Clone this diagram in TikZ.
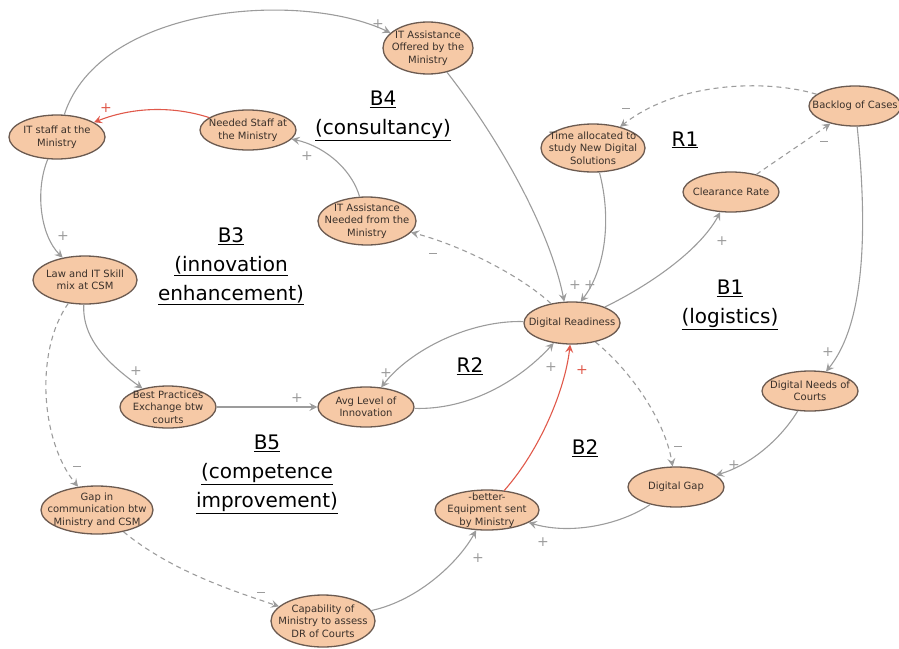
\documentclass[tikz,border=0pt]{standalone}
\usepackage{fontspec}
\setmainfont{DejaVu Sans}
\usetikzlibrary{shapes.geometric,arrows.meta}
\definecolor{peach}{HTML}{F6C9A6}
\definecolor{rim}{HTML}{6B5A50}
\definecolor{link}{HTML}{9C9C9C}
\definecolor{hot}{HTML}{E0594B}
\definecolor{ink}{HTML}{3A302A}
\tikzset{
  var/.style n args={3}{ellipse, draw=rim, line width=1.3pt, fill=peach, inner sep=0pt,
    minimum width=#1, minimum height=#2,
    label={[vtext]center:#3}},
  vtext/.style={align=center, text=ink, inner sep=0pt, font=\fontsize{10}{12.5}\selectfont},
  arc/.style={draw=link, line width=1.1pt, -{Stealth[length=8pt,width=8pt,inset=3pt]}},
  neg/.style={arc, dash pattern=on 5pt off 4pt},
  redarc/.style={arc, draw=hot},
  sgn/.style={text=link, font=\fontsize{14}{14}\selectfont, inner sep=0pt},
  redsgn/.style={sgn, text=hot},
  loopname/.style={align=center, text=black, font=\fontsize{20}{29}\selectfont, inner sep=0pt}
}
\newcommand{\minussign}{\rule[3pt]{8pt}{1.4pt}}
\begin{document}
\begin{tikzpicture}[x=1pt,y=-1pt]
\useasboundingbox (0,0) rectangle (899,648);

% variables (the ellipse keeps its given size; the text sits on it as a centred label)
\node[var={90pt}{52pt}{IT Assistance\\Offered by the\\Ministry}] (itoff) at (428,48) {};
\node[var={92pt}{40pt}{Backlog of Cases}] (backlog) at (855,106) {};
\node[var={96pt}{44pt}{IT staff at the\\Ministry}] (itstaff) at (57,137) {};
\node[var={96pt}{40pt}{Needed Staff at\\the Ministry}] (needed) at (248,130) {};
\node[var={104pt}{48pt}{Time allocated to\\study New Digital\\Solutions}] (time) at (593,148) {};
\node[var={96pt}{40pt}{Clearance Rate}] (clear) at (731,192) {};
\node[var={98pt}{48pt}{IT Assistance\\Needed from the\\Ministry}] (itneed) at (367,221) {};
\node[var={104pt}{48pt}{Law and IT Skill\\mix at CSM}] (law) at (85,280) {};
\node[var={96pt}{42pt}{Digital Readiness}] (dr) at (572,323) {};
\node[var={96pt}{42pt}{Best Practices\\Exchange btw\\courts}] (best) at (168,407) {};
\node[var={96pt}{40pt}{Avg Level of\\Innovation}] (avg) at (366,407) {};
\node[var={96pt}{40pt}{Digital Needs of\\Courts}] (needs) at (810,391) {};
\node[var={96pt}{40pt}{Digital Gap}] (gap) at (676,487) {};
\node[var={104pt}{40pt}{-better-\\Equipment sent\\by Ministry}] (equip) at (487,510) {};
\node[var={112pt}{48pt}{Gap in\\communication btw\\Ministry and CSM}] (comm) at (97,510) {};
\node[var={104pt}{52pt}{Capability of\\Ministry to assess\\DR of Courts}] (cap) at (323,621) {};

% causal links
\draw[arc] (itstaff) .. controls (100,5) and (300,-10) .. (itoff.158);
\draw[redarc] (needed) .. controls (170,105) and (130,108) .. (itstaff);
\draw[arc] (itneed) .. controls (350,165) and (320,145) .. (needed);
\draw[arc] (itoff) .. controls (500,140) and (550,230) .. (dr.110);
\draw[arc] (time) .. controls (612,220) and (605,270) .. (dr.68);
\draw[neg] (backlog) .. controls (770,80) and (680,80) .. (time);
\draw[neg] (clear) .. controls (780,158) and (810,138) .. (backlog);
\draw[arc] (dr) .. controls (650,285) and (700,250) .. (clear);
\draw[neg] (dr) .. controls (520,275) and (460,245) .. (itneed);
\draw[arc] (backlog) .. controls (870,250) and (860,330) .. (needs);
\draw[arc] (needs) .. controls (780,440) and (750,465) .. (gap);
\draw[neg] (dr) .. controls (630,370) and (665,420) .. (gap);
\draw[arc] (gap) .. controls (620,525) and (570,535) .. (equip);
\draw[redarc] (equip) .. controls (540,450) and (565,390) .. (dr.265);
\draw[arc] (cap) .. controls (420,600) and (460,560) .. (equip);
\draw[neg] (comm) .. controls (170,570) and (230,590) .. (cap);
\draw[neg] (law) .. controls (35,350) and (40,440) .. (comm);
\draw[arc] (law) .. controls (82,340) and (110,365) .. (best);
\draw[arc] (best) -- (avg);
\draw[arc] (avg) .. controls (470,410) and (520,380) .. (dr);
\draw[arc] (dr) .. controls (470,320) and (410,350) .. (avg);
\draw[arc] (itstaff) .. controls (35,190) and (40,235) .. (law);

% polarities
\node[sgn] (s1) at (378,24) {+};
\node[redsgn] (s2) at (106,108) {+};
\node[sgn] (s3) at (307,156) {+};
\node[sgn] (s4) at (626,110) {\minussign};
\node[sgn] (s5) at (824,143) {\minussign};
\node[sgn] (s6) at (575,285) {+};
\node[sgn] (s7) at (590,285) {+};
\node[sgn] (s8) at (722,241) {+};
\node[sgn] (s9) at (433,255) {\minussign};
\node[sgn] (s10) at (828,352) {+};
\node[sgn] (s11) at (734,465) {+};
\node[sgn] (s12) at (678,448) {\minussign};
\node[sgn] (s13) at (543,542) {+};
\node[redsgn] (s14) at (582,370) {+};
\node[sgn] (s15) at (478,558) {+};
\node[sgn] (s16) at (261,594) {\minussign};
\node[sgn] (s17) at (77,468) {\minussign};
\node[sgn] (s18) at (63,236) {+};
\node[sgn] (s19) at (136,371) {+};
\node[sgn] (s20) at (297,398) {+};
\node[sgn] (s21) at (386,373) {+};
\node[sgn] (s22) at (551,367) {+};

% loop names
\node[loopname] (b4) at (383,116) {\underline{B4}\\\underline{(consultancy)}};
\node[loopname] (r1) at (685,140) {\underline{R1}};
\node[loopname] (b3) at (231,266) {\underline{B3}\\\underline{(innovation}\\\underline{enhancement)}};
\node[loopname] (b1) at (730,305) {\underline{B1}\\\underline{(logistics)}};
\node[loopname] (r2) at (470,366) {\underline{R2}};
\node[loopname] (b2) at (585,448) {\underline{B2}};
\node[loopname] (b5) at (267,474) {\underline{B5}\\\underline{(competence}\\\underline{improvement)}};
\end{tikzpicture}
\end{document}
